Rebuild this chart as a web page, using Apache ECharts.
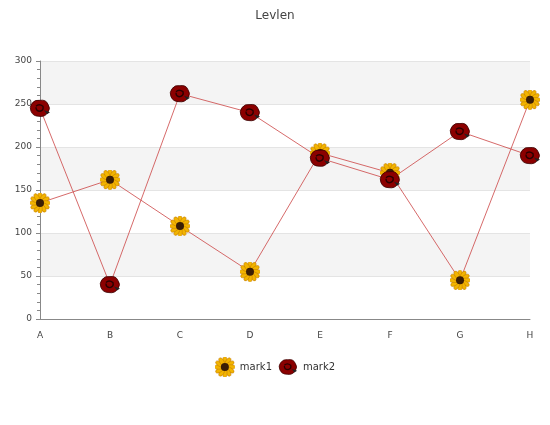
<!DOCTYPE html>
<html><head><meta charset="utf-8">
<script src="https://cdn.jsdelivr.net/npm/echarts@6/dist/echarts.min.js"></script>
<style>html,body{margin:0;padding:0;background:#fff}#c{width:550px;height:425px}</style>
</head><body><div id="c"></div>
<script>
const categories = ['A','B','C','D','E','F','G','H'];
const mark1 = [135,162,108,55,193,170,45,255];
const mark2 = [245,40,262,240,187,162,218,190];
const yTicks = [0,50,100,150,200,250,300];

let petals='';
for(let i=0;i<12;i++){petals+=`<ellipse cx="10" cy="4" rx="2.2" ry="4.5" fill="#f2b400" stroke="#c07800" stroke-width="0.5" transform="rotate(${i*30} 10 10)"/>`;}
const sun='<svg xmlns="http://www.w3.org/2000/svg" width="20" height="20">'+petals+'<circle cx="10" cy="10" r="4" fill="#3a1e05"/></svg>';
const rose='<svg xmlns="http://www.w3.org/2000/svg" width="22" height="20"><path d="M3 5 Q6 1 11 2 Q17 1 19 6 Q22 10 19 14 Q16 19 10 18 Q4 18 2 13 Q0 9 3 5Z" fill="#8b0000" stroke="#3a0000" stroke-width="0.8"/><path d="M7 8 Q10 5 14 8 Q15 12 11 13 Q7 13 7 9" fill="none" stroke="#2a0000" stroke-width="1.4"/><path d="M15 12 L21 14 L18 16Z" fill="#222"/></svg>';
const sunSym='image://data:image/svg+xml;charset=utf-8,'+encodeURIComponent(sun);
const roseSym='image://data:image/svg+xml;charset=utf-8,'+encodeURIComponent(rose);

const chart = echarts.init(document.getElementById('c'));
chart.setOption({
  animation:false,
  title:{text:'Levlen',left:'center',top:5,textStyle:{fontSize:12,fontWeight:'normal',color:'#444',fontFamily:'DejaVu Sans'}},
  legend:{bottom:43,itemWidth:20,itemHeight:20,itemGap:6,textStyle:{fontSize:10,color:'#333',fontFamily:'DejaVu Sans'},
    data:[{name:'mark1',icon:sunSym},{name:'mark2',icon:roseSym}]},
  grid:{left:40,right:20,top:61,bottom:106},
  xAxis:{type:'category',data:categories,boundaryGap:false,
    axisLine:{lineStyle:{color:'#888'}},axisTick:{show:false},
    axisLabel:{fontSize:9,color:'#444',margin:12,fontFamily:'DejaVu Sans'},splitLine:{show:false}},
  yAxis:{type:'value',min:yTicks[0],max:yTicks[yTicks.length-1],interval:50,
    axisLine:{show:true,lineStyle:{color:'#888'}},axisTick:{show:true,length:4},
    minorTick:{show:true,splitNumber:5,length:3},
    axisLabel:{fontSize:9,color:'#444',fontFamily:'DejaVu Sans'},
    splitLine:{lineStyle:{color:'#e4e4e4'}},
    splitArea:{show:true,areaStyle:{color:['#fff','#f4f4f4']}}},
  series:[
    {name:'mark1',type:'line',data:mark1,symbol:sunSym,symbolSize:20,lineStyle:{color:'#c44',width:0.8},itemStyle:{color:'#e8a000'}},
    {name:'mark2',type:'line',data:mark2,symbol:roseSym,symbolSize:[22,20],lineStyle:{color:'#c44',width:0.8},itemStyle:{color:'#8b0000'}}
  ]
});
</script></body></html>
